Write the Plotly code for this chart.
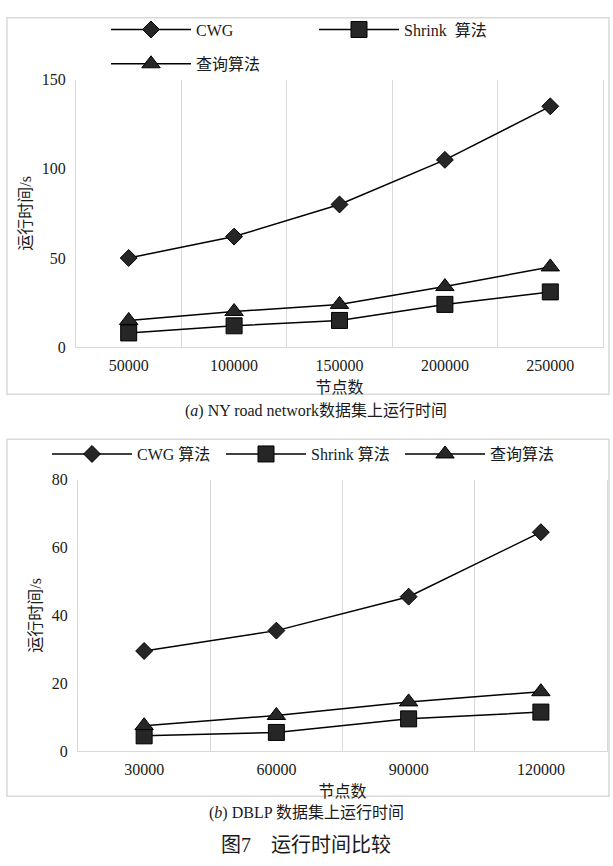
import plotly.graph_objects as go

# ---- data ----
ny_nodes = ["50000", "100000", "150000", "200000", "250000"]
ny_cwg = [50, 62, 80, 105, 135]
ny_shrink = [8, 12, 15, 24, 31]
ny_query = [15, 20, 24, 34, 45]

dblp_nodes = ["30000", "60000", "90000", "120000"]
dblp_cwg = [29.5, 35.5, 45.5, 64.5]
dblp_shrink = [4.5, 5.5, 9.5, 11.5]
dblp_query = [7.5, 10.5, 14.5, 17.5]

W, H = 613, 866
FONT = "'Liberation Serif', 'Noto Sans CJK SC', serif"
GRID = "#d9d9d9"
MARK = "#262626"
TEXT = "#1a1a1a"


def px(x):
    return x / W


def py(y):
    return 1 - y / H


def series(x, y, name, symbol, size, xa, ya, legend):
    return go.Scatter(
        x=x, y=y, name=name, mode="lines+markers",
        xaxis=xa, yaxis=ya, legend=legend,
        line=dict(color="black", width=1.5),
        marker=dict(symbol=symbol, size=size, color=MARK,
                    line=dict(color="black", width=1)),
    )


ix_ny = list(range(len(ny_nodes)))
ix_db = list(range(len(dblp_nodes)))

fig = go.Figure()
fig.add_trace(series(ix_ny, ny_cwg, "CWG", "diamond", 13, "x", "y", "legend"))
fig.add_trace(series(ix_ny, ny_shrink, "Shrink  算法", "square", 16, "x", "y", "legend2"))
fig.add_trace(series(ix_ny, ny_query, "查询算法", "triangle-up", 16, "x", "y", "legend3"))
fig.add_trace(series(ix_db, dblp_cwg, "CWG 算法", "diamond", 13, "x2", "y2", "legend4"))
fig.add_trace(series(ix_db, dblp_shrink, "Shrink 算法", "square", 16, "x2", "y2", "legend5"))
fig.add_trace(series(ix_db, dblp_query, "查询算法", "triangle-up", 16, "x2", "y2", "legend6"))

tickfont = dict(family=FONT, size=16, color=TEXT)


def xaxis(labels, domain, anchor):
    return dict(
        domain=domain, anchor=anchor,
        range=[-0.5, len(labels) - 0.5],
        tickvals=list(range(len(labels))), ticktext=labels,
        showgrid=False, zeroline=False,
        showline=True, linecolor=GRID, linewidth=1,
        ticks="", tickfont=tickfont, ticklabelstandoff=4,
        minor=dict(tick0=0.5, dtick=1, showgrid=True, gridcolor=GRID, gridwidth=1),
        title=dict(text="节点数", font=dict(family=FONT, size=16, color=TEXT), standoff=8),
        fixedrange=True,
    )


def yaxis(rng, dtick, domain, anchor):
    return dict(
        domain=domain, anchor=anchor, range=rng, dtick=dtick,
        showgrid=False, zeroline=False,
        showline=True, mirror=True, linecolor=GRID, linewidth=1,
        ticks="", tickfont=tickfont, ticklabelstandoff=6,
        title=dict(text="运行时间/s", font=dict(family=FONT, size=16, color=TEXT), standoff=6),
        fixedrange=True,
    )


def legend_at(x, y):
    return dict(
        x=px(x), y=py(y), xanchor="left", yanchor="middle",
        orientation="h", itemwidth=80, bgcolor="rgba(0,0,0,0)",
        font=dict(family=FONT, size=16, color=TEXT),
    )


def caption(text, x, y, size):
    return dict(text=text, x=px(x), y=py(y), xref="paper", yref="paper",
                xanchor="center", yanchor="middle", showarrow=False,
                font=dict(family=FONT, size=size, color=TEXT))


fig.update_layout(
    width=W, height=H,
    margin=dict(l=0, r=0, t=0, b=0),
    font=dict(family=FONT, size=16, color=TEXT),
    paper_bgcolor="white", plot_bgcolor="white",
    showlegend=True,
    xaxis=xaxis(ny_nodes, [px(76), px(603)], "y"),
    yaxis=yaxis([0, 150], 50, [py(346), py(73)], "x"),
    xaxis2=xaxis(dblp_nodes, [px(78), px(607)], "y2"),
    yaxis2=yaxis([0, 80], 20, [py(758), py(481)], "x2"),
    legend=legend_at(106, 22),
    legend2=legend_at(314, 22),
    legend3=legend_at(106, 57),
    legend4=legend_at(47, 455),
    legend5=legend_at(221, 455),
    legend6=legend_at(400, 455),
    shapes=[
        dict(type="rect", xref="paper", yref="paper",
             x0=px(7), x1=px(609), y0=py(394), y1=py(10),
             line=dict(color=GRID, width=1.5)),
        dict(type="rect", xref="paper", yref="paper",
             x0=px(7), x1=px(609), y0=py(804), y1=py(440),
             line=dict(color=GRID, width=1.5)),
    ],
    annotations=[
        caption("(<i>a</i>) NY road network数据集上运行时间", 316, 411, 16),
        caption("(<i>b</i>) DBLP 数据集上运行时间", 306, 821, 16),
        caption("图7　运行时间比较", 306, 854, 20),
    ],
)

fig.write_html("out.html")
